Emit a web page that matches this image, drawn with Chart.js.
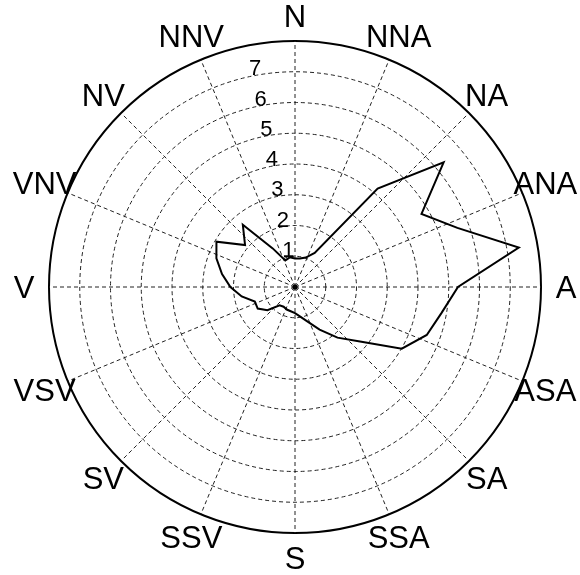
<!DOCTYPE html>
<html>
<head>
<meta charset="utf-8">
<script src="https://cdn.jsdelivr.net/npm/chart.js@4.4.0/dist/chart.umd.min.js"></script>
<style>
  html, body { margin: 0; padding: 0; background: #fff; }
  canvas { display: block; }
</style>
</head>
<body>
<canvas id="rose" width="580" height="575"></canvas>
<script>
// compass labels, clockwise from north
const directions = ['N', 'NNA', 'NA', 'ANA', 'A', 'ASA', 'SA', 'SSA', 'S', 'SSV', 'SV', 'VSV', 'V', 'VNV', 'NV', 'NNV'];
const bearings = [0, 10, 20, 30, 40, 50, 60, 70, 80, 90, 100, 110, 120, 130, 140, 150, 160, 170,
                  180, 190, 200, 210, 220, 230, 240, 250, 260, 270, 280, 290, 300, 310, 320, 330, 340, 350];
const values = [0.93, 0.94, 1.02, 1.28, 4.18, 6.31, 4.75, 5.62, 7.39, 5.3, 4.84, 4.56, 4.01, 2.76, 2.15, 1.6, 1.2, 0.98,
                0.85, 0.8, 0.78, 0.74, 0.78, 1.17, 1.4, 1.39, 1.76, 2.1, 2.41, 2.72, 2.95, 2.12, 2.64, 1.45, 0.92, 0.98];
const ringTicks = [1, 2, 3, 4, 5, 6, 7];
const rMax = 8;

// one slot every 2.5 degrees so the 22.5 degree spokes and the 10 degree values both land on a slot
const step = 2.5;
const slotLabels = [];
const slotData = [];
for (let i = 0; i < 360 / step; i++) {
  slotLabels.push('');
  slotData.push(null);
}
directions.forEach((d, j) => { slotLabels[Math.round(j * 22.5 / step)] = d; });
bearings.forEach((b, k) => { slotData[Math.round(b / step)] = values[k]; });

const font = '"Liberation Sans", Arial, Helvetica, sans-serif';

// compass names, ring numbers and the centre dot
const roseText = {
  id: 'roseText',
  afterDraw(chart) {
    const s = chart.scales.r;
    const c = chart.ctx;
    c.save();
    c.fillStyle = '#000';
    c.textAlign = 'center';
    c.textBaseline = 'middle';
    c.font = '31px ' + font;
    directions.forEach((d, j) => {
      const p = s.getPointPosition(Math.round(j * 22.5 / step), s.drawingArea + 25);
      c.fillText(d, p.x, p.y + 2);
    });
    c.font = '22px ' + font;
    const tilt = 10.4 * Math.PI / 180;
    ringTicks.forEach(t => {
      const d = s.getDistanceFromCenterForValue(t);
      c.fillText(String(t), s.xCenter - d * Math.sin(tilt) - 1, s.yCenter - d * Math.cos(tilt) - 6);
    });
    c.beginPath();
    c.arc(s.xCenter, s.yCenter, 2.5, 0, 2 * Math.PI);
    c.fill();
    c.restore();
  }
};

new Chart(document.getElementById('rose'), {
  type: 'radar',
  data: {
    labels: slotLabels,
    datasets: [{
      data: slotData,
      spanGaps: true,
      fill: false,
      borderColor: '#000',
      borderWidth: 2,
      pointRadius: 0,
      tension: 0
    }]
  },
  options: {
    responsive: false,
    animation: false,
    layout: { padding: { left: 49, right: 39, top: 41, bottom: 42 } },
    plugins: { legend: { display: false }, tooltip: { enabled: false } },
    scales: {
      r: {
        min: 0,
        max: rMax,
        ticks: { display: false, stepSize: 1 },
        pointLabels: { display: false },
        grid: {
          circular: true,
          color: ctx => ctx.tick && ctx.tick.value === rMax ? '#000' : '#222',
          lineWidth: ctx => ctx.tick && ctx.tick.value === rMax ? 2 : 1
        },
        border: {
          dash: ctx => ctx.tick && ctx.tick.value === rMax ? [] : [4, 3]
        },
        angleLines: {
          color: '#222',
          lineWidth: ctx => slotLabels[ctx.index] ? 1 : 0,
          borderDash: [4, 3]
        }
      }
    }
  },
  plugins: [roseText]
});
</script>
</body>
</html>
